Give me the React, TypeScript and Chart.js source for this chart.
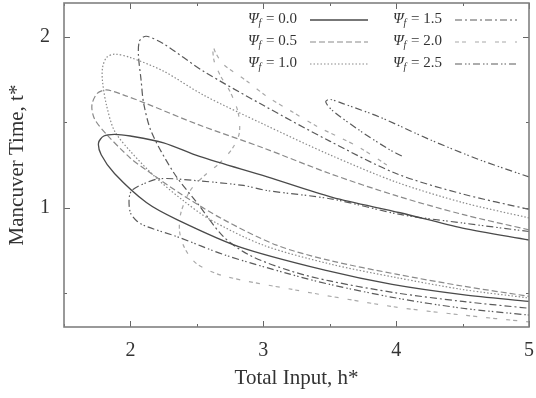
import { useEffect, useRef } from "react";
import { Chart, registerables } from "chart.js";
Chart.register(...registerables);

// ---- axis ticks ----
const xMajor = [2, 3, 4, 5];
const xMinor = [1.5, 2.5, 3.5, 4.5];
const yMajor = [1, 2];
const yMinor = [0.5, 1.5];

// ---- legend labels ----
const psiLabels = ["0.0", "0.5", "1.0", "1.5", "2.0", "2.5"];

// ---- series (h*, t*) ----
const psi00H = [5.0, 4.5, 4.03, 3.52, 3.03, 2.52, 2.25, 2.0, 1.88, 1.8, 1.76, 1.78, 1.88, 2.12, 2.35, 2.82, 3.48, 3.97, 4.5, 5.0];
const psi00T = [0.81, 0.88, 0.97, 1.06, 1.18, 1.3, 1.38, 1.42, 1.43, 1.42, 1.38, 1.31, 1.2, 1.03, 0.93, 0.77, 0.63, 0.55, 0.49, 0.45];

const psi05H = [5.0, 4.5, 4.0, 3.5, 3.0, 2.5, 2.12, 1.95, 1.82, 1.75, 1.71, 1.73, 1.82, 2.0, 2.12, 2.38, 2.7, 3.1, 3.5, 4.0, 4.5, 5.0];
const psi05T = [0.87, 0.96, 1.07, 1.2, 1.35, 1.49, 1.61, 1.66, 1.69, 1.67, 1.6, 1.52, 1.43, 1.29, 1.22, 1.08, 0.93, 0.78, 0.69, 0.61, 0.54, 0.48];

const psi10H = [5.0, 4.5, 4.0, 3.5, 3.0, 2.55, 2.25, 2.0, 1.88, 1.82, 1.79, 1.79, 1.82, 1.88, 2.0, 2.2, 2.4, 2.6, 3.0, 3.5, 4.0, 4.5, 5.0];
const psi10T = [0.94, 1.03, 1.15, 1.31, 1.49, 1.66, 1.8, 1.88, 1.9, 1.88, 1.82, 1.74, 1.6, 1.45, 1.33, 1.17, 1.04, 0.93, 0.78, 0.67, 0.59, 0.52, 0.47];

const psi15H = [5.0, 4.5, 4.0, 3.5, 3.0, 2.55, 2.25, 2.12, 2.07, 2.06, 2.08, 2.1, 2.16, 2.33, 2.5, 2.7, 2.9, 3.2, 3.5, 4.0, 4.5, 5.0];
const psi15T = [0.99, 1.08, 1.2, 1.39, 1.6, 1.8, 1.96, 2.005, 1.98, 1.9, 1.75, 1.61, 1.44, 1.2, 1.03, 0.83, 0.72, 0.63, 0.57, 0.5, 0.45, 0.41];

const psi20H = [3.93, 3.73, 3.58, 3.42, 3.2, 3.03, 2.88, 2.7, 2.64, 2.62, 2.63, 2.68, 2.75, 2.81, 2.82, 2.77, 2.67, 2.56, 2.45, 2.38, 2.37, 2.41, 2.5, 2.7, 3.22, 3.97, 4.5, 5.0];
const psi20T = [1.25, 1.35, 1.41, 1.47, 1.57, 1.65, 1.74, 1.84, 1.91, 1.95, 1.86, 1.77, 1.68, 1.56, 1.44, 1.35, 1.26, 1.19, 1.1, 0.97, 0.86, 0.76, 0.67, 0.6, 0.52, 0.42, 0.37, 0.33];

const psi25aH = [5.0, 4.63, 4.25, 3.88, 3.6, 3.5, 3.47, 3.52, 3.73, 3.95, 4.05];
const psi25aT = [1.18, 1.28, 1.4, 1.53, 1.61, 1.635, 1.62, 1.57, 1.45, 1.34, 1.3];

const psi25bH = [5.0, 4.5, 4.03, 3.52, 3.03, 2.85, 2.47, 2.22, 2.1, 2.01, 1.99, 2.0, 2.05, 2.12, 2.35, 2.72, 3.2, 3.5, 4.0, 4.5, 5.0];
const psi25bT = [0.86, 0.91, 0.96, 1.05, 1.1, 1.13, 1.16, 1.17, 1.14, 1.1, 1.05, 0.97, 0.92, 0.89, 0.83, 0.72, 0.61, 0.55, 0.47, 0.41, 0.37];

type Style = { color: string; dash: number[]; width: number };
const styles: Style[] = [
  { color: "#4a4a4a", dash: [], width: 1.3 },
  { color: "#8a8a8a", dash: [6, 3], width: 1.2 },
  { color: "#8a8a8a", dash: [1.5, 2], width: 1.2 },
  { color: "#5a5a5a", dash: [7, 3, 2, 3], width: 1.2 },
  { color: "#a8a8a8", dash: [4, 3, 4, 9], width: 1.2 },
  { color: "#5a5a5a", dash: [7, 3, 1.5, 2, 1.5, 3], width: 1.2 },
];

const pts = (h: number[], t: number[]) => h.map((x, i) => ({ x, y: t[i] }));

const SERIF = '"Liberation Serif", "DejaVu Serif", serif';

const decorPlugin = {
  id: "decor",
  afterDatasetsDraw(chart: any) {
    const { ctx, chartArea: a, scales } = chart;
    const xs = scales.x;
    const ys = scales.y;
    ctx.save();
    ctx.strokeStyle = "#666";
    ctx.lineWidth = 1;
    ctx.setLineDash([]);
    const xt = (v: number, len: number) => {
      const p = Math.round(xs.getPixelForValue(v)) + 0.5;
      ctx.beginPath();
      ctx.moveTo(p, a.bottom);
      ctx.lineTo(p, a.bottom - len);
      ctx.moveTo(p, a.top);
      ctx.lineTo(p, a.top + len);
      ctx.stroke();
    };
    const yt = (v: number, len: number) => {
      const p = Math.round(ys.getPixelForValue(v)) + 0.5;
      ctx.beginPath();
      ctx.moveTo(a.left, p);
      ctx.lineTo(a.left + len, p);
      ctx.moveTo(a.right, p);
      ctx.lineTo(a.right - len, p);
      ctx.stroke();
    };
    xMajor.forEach((v) => xt(v, 6));
    xMinor.forEach((v) => xt(v, 3));
    yMajor.forEach((v) => yt(v, 6));
    yMinor.forEach((v) => yt(v, 3));
    ctx.strokeStyle = "#808080";
    ctx.lineWidth = 1.6;
    ctx.strokeRect(a.left, a.top, a.right - a.left, a.bottom - a.top);

    const cols = [
      { tx: 248, lx1: 310, lx2: 368 },
      { tx: 393, lx1: 455, lx2: 517 },
    ];
    const rows = [19.5, 41.5, 63.5];
    psiLabels.forEach((lab, i) => {
      const c = cols[Math.floor(i / 3)];
      const y = rows[i % 3];
      ctx.fillStyle = "#333";
      ctx.textBaseline = "middle";
      ctx.textAlign = "left";
      ctx.font = `italic 15px ${SERIF}`;
      ctx.fillText("\u03A8", c.tx, y);
      let w = ctx.measureText("\u03A8").width;
      ctx.font = `italic 10px ${SERIF}`;
      ctx.fillText("f", c.tx + w, y + 4);
      w += ctx.measureText("f").width + 1;
      ctx.font = `15px ${SERIF}`;
      ctx.fillText(" = " + lab, c.tx + w, y);
      const s = styles[i];
      ctx.beginPath();
      ctx.strokeStyle = s.color;
      ctx.lineWidth = s.width;
      ctx.setLineDash(s.dash);
      ctx.moveTo(c.lx1, y + 0.5);
      ctx.lineTo(c.lx2, y + 0.5);
      ctx.stroke();
    });
    ctx.restore();
  },
};

export default function App() {
  const ref = useRef<HTMLCanvasElement>(null);
  useEffect(() => {
    if (!ref.current) return;
    const series = [
      { d: pts(psi00H, psi00T), s: 0 },
      { d: pts(psi05H, psi05T), s: 1 },
      { d: pts(psi10H, psi10T), s: 2 },
      { d: pts(psi15H, psi15T), s: 3 },
      { d: pts(psi20H, psi20T), s: 4 },
      { d: pts(psi25aH, psi25aT), s: 5 },
      { d: pts(psi25bH, psi25bT), s: 5 },
    ];
    const chart = new Chart(ref.current, {
      type: "scatter",
      data: {
        datasets: series.map((e) => ({
          label: "\u03A8f = " + psiLabels[e.s],
          data: e.d,
          showLine: true,
          borderColor: styles[e.s].color,
          borderDash: styles[e.s].dash,
          borderWidth: styles[e.s].width,
          pointRadius: 0,
          tension: 0.3,
          fill: false,
        })),
      },
      options: {
        responsive: false,
        animation: false,
        devicePixelRatio: 1,
        layout: { padding: { top: 3, right: 7, left: 0, bottom: 0 } },
        plugins: { legend: { display: false }, tooltip: { enabled: false } },
        scales: {
          x: {
            type: "linear",
            min: 1.5,
            max: 5,
            afterBuildTicks: (sc: any) => {
              sc.ticks = xMajor.map((v) => ({ value: v }));
            },
            afterFit: (sc: any) => {
              sc.height = 71;
              sc.paddingLeft = 0;
              sc.paddingRight = 0;
              sc.paddingTop = 0;
              sc.paddingBottom = 0;
            },
            grid: { display: false, drawTicks: false },
            border: { display: false },
            ticks: {
              padding: 12,
              color: "#333",
              font: { family: SERIF, size: 20 },
              callback: (v: any) => String(v),
              maxRotation: 0,
            },
            title: {
              display: true,
              text: "Total Input, h*",
              color: "#333",
              font: { family: SERIF, size: 21 },
              padding: { top: 0, bottom: 7 },
            },
          },
          y: {
            type: "linear",
            min: 0.3,
            max: 2.2,
            afterBuildTicks: (sc: any) => {
              sc.ticks = yMajor.map((v) => ({ value: v }));
            },
            afterFit: (sc: any) => {
              sc.width = 64;
              sc.paddingLeft = 0;
              sc.paddingRight = 0;
              sc.paddingTop = 0;
              sc.paddingBottom = 0;
            },
            grid: { display: false, drawTicks: false },
            border: { display: false },
            ticks: {
              padding: 14,
              color: "#333",
              font: { family: SERIF, size: 20 },
              callback: (v: any) => String(v),
            },
            title: {
              display: true,
              text: "Mancuver Time, t*",
              color: "#333",
              font: { family: SERIF, size: 21 },
              padding: { top: 5, bottom: 0 },
            },
          },
        },
      },
      plugins: [decorPlugin],
    } as any);
    return () => chart.destroy();
  }, []);
  return (
    <div style={{ position: "absolute", left: 0, top: 0, width: 536, height: 398, background: "#fff" }}>
      <canvas ref={ref} width={536} height={398} />
    </div>
  );
}
